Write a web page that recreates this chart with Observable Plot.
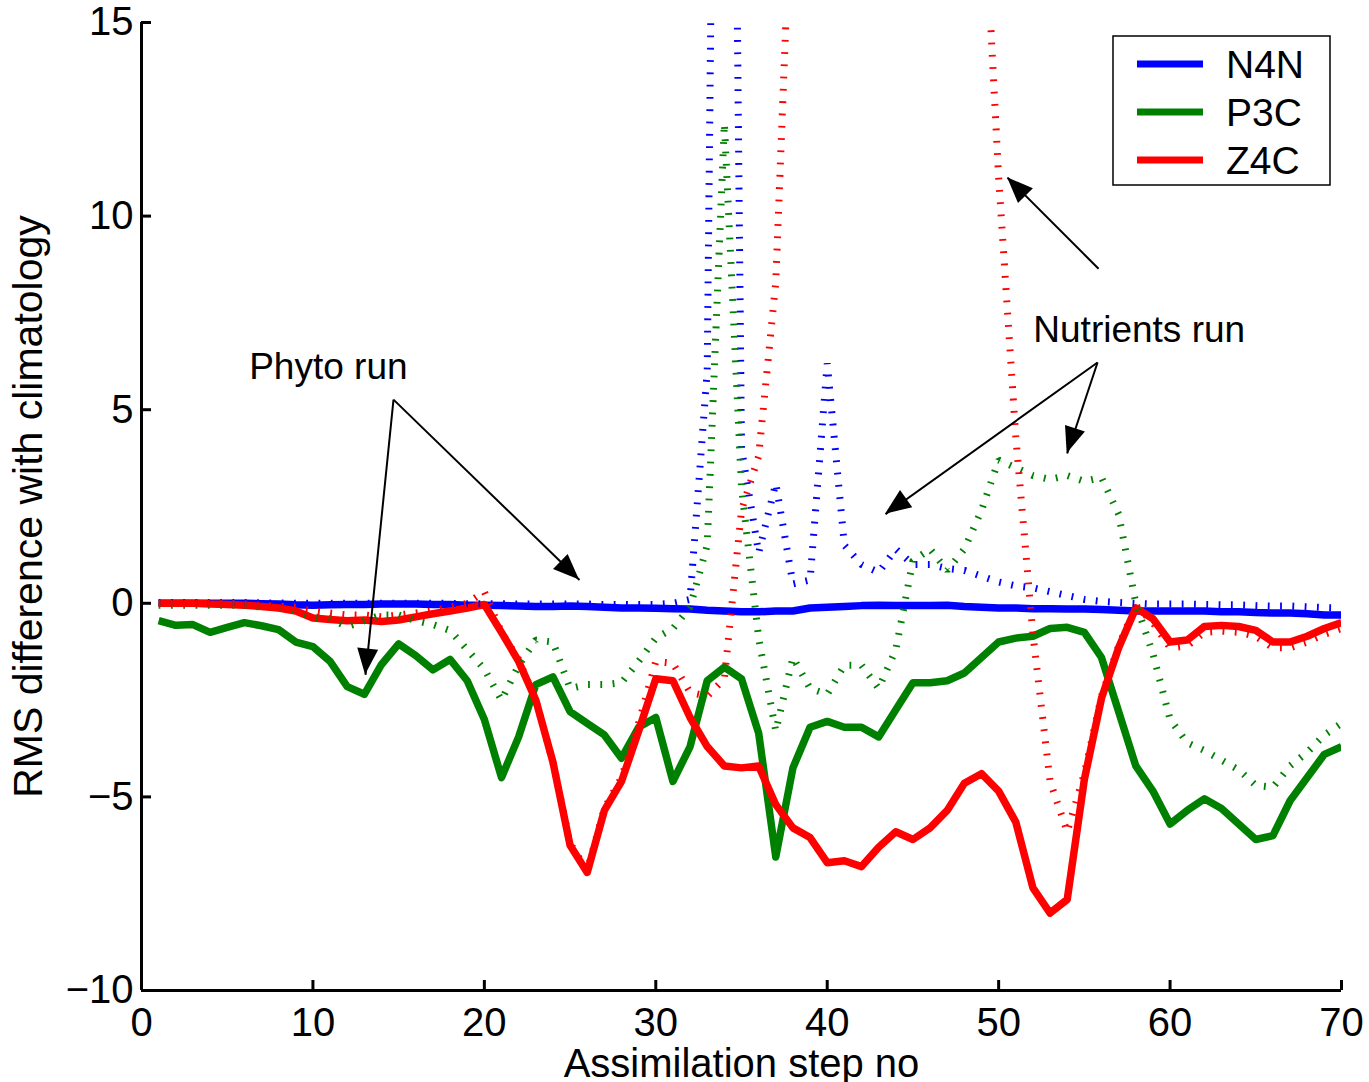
<!DOCTYPE html>
<html><head><meta charset="utf-8">
<script src="https://cdn.jsdelivr.net/npm/d3@7"></script>
<script src="https://cdn.jsdelivr.net/npm/@observablehq/plot@0.6"></script>
<style>body{margin:0;background:#fff} svg{display:block}</style>
</head><body><div id="chart"></div>
<script>
// Assimilation steps
const steps = d3.range(1, 71);

// Solid lines ("Phyto run")
const n4nSolid = [0,0,0,0,0,0,-0.01,-0.02,-0.04,-0.05,
 -0.04,-0.03,-0.03,-0.02,-0.02,-0.02,-0.03,-0.03,-0.05,-0.05,
 -0.06,-0.07,-0.08,-0.08,-0.07,-0.08,-0.1,-0.12,-0.12,-0.13,
 -0.14,-0.15,-0.18,-0.2,-0.22,-0.22,-0.2,-0.2,-0.12,-0.1,
 -0.08,-0.06,-0.05,-0.06,-0.06,-0.06,-0.05,-0.08,-0.1,-0.12,
 -0.12,-0.14,-0.14,-0.15,-0.15,-0.16,-0.18,-0.2,-0.2,-0.2,
 -0.2,-0.2,-0.22,-0.22,-0.24,-0.25,-0.25,-0.27,-0.3,-0.3];
const p3cSolid = [-0.45,-0.57,-0.55,-0.75,-0.62,-0.5,-0.58,-0.68,-1.0,-1.12,
 -1.5,-2.15,-2.35,-1.58,-1.05,-1.35,-1.72,-1.45,-2.0,-3.0,
 -4.5,-3.45,-2.1,-1.9,-2.8,-3.1,-3.4,-4.0,-3.2,-2.95,
 -4.6,-3.7,-2.0,-1.65,-1.95,-3.35,-6.55,-4.25,-3.2,-3.05,
 -3.2,-3.2,-3.45,-2.75,-2.05,-2.05,-2.0,-1.8,-1.4,-1.0,
 -0.9,-0.85,-0.65,-0.62,-0.75,-1.4,-2.8,-4.2,-4.85,-5.7,
 -5.35,-5.05,-5.3,-5.7,-6.1,-6.0,-5.1,-4.5,-3.9,-3.7];
const z4cSolid = [0,0,0,-0.02,-0.03,-0.05,-0.08,-0.12,-0.2,-0.38,
 -0.42,-0.45,-0.43,-0.47,-0.43,-0.35,-0.27,-0.2,-0.12,-0.03,
 -0.75,-1.5,-2.5,-4.1,-6.25,-6.95,-5.35,-4.6,-3.3,-1.95,
 -2.0,-2.95,-3.7,-4.2,-4.25,-4.2,-5.2,-5.8,-6.05,-6.7,
 -6.65,-6.8,-6.3,-5.9,-6.1,-5.8,-5.35,-4.65,-4.4,-4.85,
 -5.65,-7.35,-8.0,-7.65,-4.55,-2.45,-1.15,-0.12,-0.4,-1.0,
 -0.95,-0.6,-0.57,-0.6,-0.7,-1.0,-1.0,-0.85,-0.65,-0.5];

// Dotted lines ("Nutrients run")
const n4nDotted = [0.02,0.02,0.02,0.02,0.02,0.02,0.01,0.01,0.0,0.0,
 0.0,0.0,0.0,0.0,0.0,0.0,0.0,0.0,-0.01,-0.01,
 -0.01,-0.02,-0.02,-0.02,-0.02,-0.02,-0.03,-0.03,-0.03,-0.03,
 0.0,0.1,6.0,50,4.0,1.3,3.1,0.5,0.6,6.2,
 1.5,1.0,0.8,1.4,1.0,1.0,0.9,0.85,0.7,0.55,
 0.45,0.4,0.3,0.2,0.1,0.05,0.02,0.0,-0.02,-0.02,
 -0.02,-0.03,-0.04,-0.04,-0.06,-0.07,-0.07,-0.09,-0.11,-0.12];
const p3cDotted = [-0.05,-0.05,-0.05,-0.05,-0.05,-0.05,-0.1,-0.05,-0.2,-0.35,
 -0.4,-0.6,-0.45,-0.3,-0.3,-0.45,-0.55,-0.7,-1.2,-1.7,
 -2.5,-1.6,-0.95,-1.0,-2.2,-2.1,-2.1,-2.05,-1.5,-0.9,
 -0.65,-0.1,1.5,12.4,3.0,-0.9,-3.3,-1.4,-2.2,-2.35,
 -1.6,-1.6,-2.2,-1.2,1.1,1.4,0.85,1.4,2.4,3.7,
 3.5,3.3,3.2,3.3,3.15,3.25,2.3,0.0,-1.3,-3.0,
 -3.6,-3.8,-4.05,-4.3,-4.7,-4.75,-4.2,-3.85,-3.4,-3.1];
const z4cDotted = [0,0,0,0,0,-0.02,-0.05,-0.08,-0.1,-0.2,
 -0.25,-0.3,-0.3,-0.35,-0.3,-0.25,-0.2,-0.1,0.0,0.3,
 -0.75,-1.45,-2.5,-4.1,-6.2,-6.9,-5.3,-4.5,-3.1,-1.5,
 -1.55,-2.3,-2.4,-1.95,2.4,3.8,8.3,19.7,24,27,
 28,26,27,29,27,25,24,23,19.5,11.0,
 4.3,-0.8,-4.6,-5.9,-4.4,-2.4,-1.1,-0.05,-0.5,-1.15,
 -1.1,-0.75,-0.72,-0.75,-0.85,-1.15,-1.15,-1.0,-0.8,-0.65];

const seriesNames = ["N4N", "P3C", "Z4C"];
const seriesColors = ["#0000ff", "#008000", "#ff0000"];
const xTicks = [0, 10, 20, 30, 40, 50, 60, 70];
const yTicks = [-10, -5, 0, 5, 10, 15];
const xLabel = "Assimilation step no";
const yLabel = "RMS difference with climatology";

// Annotations
const notes = [
  {text: "Phyto run", x: 10.9, y: 5.8},
  {text: "Nutrients run", x: 58.2, y: 6.75}
];
const arrows = [
  {x1: 14.7, y1: 5.26, x2: 13.07, y2: -1.85},
  {x1: 14.7, y1: 5.26, x2: 25.55, y2: 0.6},
  {x1: 55.83, y1: 8.64, x2: 50.52, y2: 10.99},
  {x1: 55.77, y1: 6.22, x2: 43.4, y2: 2.3},
  {x1: 55.77, y1: 6.22, x2: 54.0, y2: 3.87}
];

const rows = (vals) => steps.map((s, i) => ({step: s, value: vals[i]}));
const solid = [n4nSolid, p3cSolid, z4cSolid];
const dotted = [n4nDotted, p3cDotted, z4cDotted];

const font = "'Liberation Sans', Arial, Helvetica, sans-serif";

const marks = [];
solid.forEach((vals, k) => marks.push(Plot.line(rows(vals), {
  x: "step", y: "value", stroke: seriesColors[k], strokeWidth: 7.5,
  strokeLinejoin: "round", strokeLinecap: "butt", clip: true
})));
dotted.forEach((vals, k) => marks.push(Plot.line(rows(vals), {
  x: "step", y: "value", stroke: seriesColors[k], strokeWidth: 7,
  strokeDasharray: "1.8,10.5", strokeLinecap: "butt", strokeLinejoin: "miter", clip: true
})));

marks.push(
  Plot.link(arrows, {x1: "x1", y1: "y1", x2: "x2", y2: "y2", stroke: "black", strokeWidth: 2}),
  Plot.text(notes, {x: "x", y: "y", text: "text", fontSize: 37, textAnchor: "middle", lineAnchor: "bottom", fill: "black"}),
  Plot.ruleX([0], {stroke: "black", strokeWidth: 3}),
  Plot.ruleY([-10], {stroke: "black", strokeWidth: 3}),
  Plot.tickY(yTicks, {y: d => d, insetRight: 1190, stroke: "black", strokeWidth: 3}),
  Plot.tickX(xTicks, {x: d => d, insetTop: 958, stroke: "black", strokeWidth: 3}),
  Plot.axisX({ticks: xTicks, tickSize: 0, tickPadding: 17, label: null, fontSize: 40}),
  Plot.axisY({ticks: yTicks, tickSize: 0, tickPadding: 8, label: null, fontSize: 40}),
  Plot.text([xLabel], {text: d => d, frameAnchor: "bottom", dy: 86, lineAnchor: "bottom", textAnchor: "middle", fontSize: 40}),
  Plot.text([yLabel], {text: d => d, frameAnchor: "left", dx: -113, rotate: -90, textAnchor: "middle", fontSize: 41})
);

const plot = Plot.plot({
  width: 1369, height: 1082,
  marginLeft: 141, marginRight: 28, marginTop: 22, marginBottom: 92,
  x: {domain: [0, 70]},
  y: {domain: [-10, 15]},
  style: {fontFamily: font, background: "white", color: "black", overflow: "visible"},
  marks
});
document.getElementById("chart").appendChild(plot);

// filled arrowheads positioned through the plot's scales
const sx = plot.scale("x"), sy = plot.scale("y");
const svg = d3.select(plot);
const headL = 26, headW = 21;
arrows.forEach(a => {
  const px1 = sx.apply(a.x1), py1 = sy.apply(a.y1);
  const px2 = sx.apply(a.x2), py2 = sy.apply(a.y2);
  const dx = px2 - px1, dy = py2 - py1, len = Math.hypot(dx, dy);
  const ux = dx / len, uy = dy / len;
  const bx = px2 - ux * headL, by = py2 - uy * headL;
  const pts = [[px2, py2], [bx - uy * headW / 2, by + ux * headW / 2], [bx + uy * headW / 2, by - ux * headW / 2]];
  svg.append("polygon").attr("points", pts.map(p => p.join(",")).join(" ")).attr("fill", "black");
});

// legend box inside the axes (upper right)
const lg = svg.append("g").attr("font-family", font).attr("font-size", 39).attr("text-anchor", "start");
lg.append("rect").attr("x", 1113).attr("y", 36).attr("width", 217).attr("height", 149)
  .attr("fill", "white").attr("stroke", "black").attr("stroke-width", 1.5);
seriesNames.forEach((name, k) => {
  const yy = 64 + k * 48;
  lg.append("line").attr("x1", 1137).attr("x2", 1203).attr("y1", yy).attr("y2", yy)
    .attr("stroke", seriesColors[k]).attr("stroke-width", 7);
  lg.append("text").attr("x", 1226).attr("y", yy + 14).attr("fill", "black")
    .attr("text-anchor", "start").text(name);
});
</script>
</body></html>
